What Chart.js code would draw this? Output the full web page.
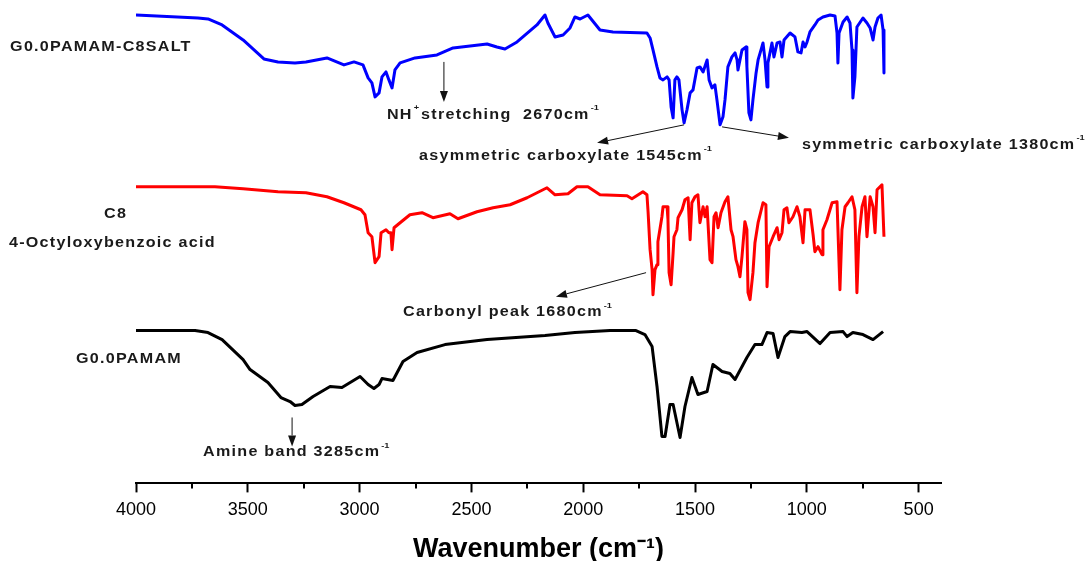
<!DOCTYPE html>
<html>
<head>
<meta charset="utf-8">
<script src="https://cdn.jsdelivr.net/npm/chart.js@4"></script>
<style>
  html, body { margin: 0; padding: 0; background: #fff; overflow: hidden; }
  canvas { display: block; }
</style>
</head>
<body>
<canvas id="ftirChart" width="1088" height="570"></canvas>
<script>
// wavenumber (cm-1) / offset transmittance
const saltWn = [4000, 3723, 3678, 3615, 3521, 3428, 3365, 3289, 3240, 3146, 3070, 3025, 2985, 2962, 2945, 2931, 2913, 2900, 2882, 2869, 2855, 2842, 2819, 2752, 2654, 2582, 2430, 2386, 2350, 2296, 2207, 2171, 2158, 2126, 2090, 2059, 2037, 2014, 1979, 1925, 1867, 1715, 1701, 1688, 1670, 1657, 1643, 1625, 1616, 1607, 1598, 1590, 1581, 1572, 1558, 1549, 1536, 1522, 1509, 1491, 1478, 1464, 1446, 1437, 1424, 1411, 1402, 1388, 1375, 1366, 1353, 1335, 1321, 1312, 1308, 1290, 1272, 1268, 1259, 1250, 1241, 1227, 1218, 1201, 1196, 1187, 1178, 1174, 1156, 1147, 1133, 1120, 1111, 1102, 1075, 1053, 1040, 1026, 1017, 1008, 999, 986, 964, 950, 928, 896, 874, 865, 861, 856, 838, 820, 807, 798, 794, 785, 776, 749, 731, 717, 704, 695, 682, 668, 659, 655];
const saltT = [485, 482, 481, 475, 460, 441, 438, 437, 438, 442, 435, 438, 435, 422, 417, 403, 407, 423, 428, 420, 412, 430, 437, 442, 445, 452, 456, 453, 451, 458, 475, 485, 477, 463, 465, 472, 483, 481, 485, 470, 468, 467, 462, 450, 433, 422, 420, 423, 420, 393, 382, 420, 423, 420, 390, 377, 390, 407, 410, 432, 433, 428, 440, 420, 412, 415, 400, 375, 383, 400, 433, 443, 447, 440, 430, 450, 453, 433, 387, 380, 400, 427, 440, 453, 457, 440, 413, 437, 457, 443, 457, 458, 443, 460, 467, 463, 448, 447, 458, 453, 458, 468, 475, 480, 483, 485, 484, 467, 437, 467, 478, 483, 477, 450, 402, 423, 473, 482, 477, 472, 460, 473, 482, 485, 470, 427];

const acidWn = [4000, 3647, 3521, 3365, 3240, 3146, 3070, 2994, 2976, 2962, 2945, 2931, 2913, 2904, 2882, 2869, 2860, 2855, 2846, 2819, 2775, 2721, 2672, 2596, 2560, 2475, 2403, 2327, 2251, 2162, 2126, 2068, 2028, 1979, 1925, 1804, 1782, 1733, 1715, 1710, 1701, 1692, 1688, 1679, 1670, 1666, 1648, 1643, 1625, 1621, 1616, 1607, 1598, 1594, 1581, 1576, 1558, 1545, 1531, 1522, 1514, 1500, 1487, 1478, 1464, 1455, 1446, 1433, 1424, 1415, 1406, 1397, 1384, 1366, 1353, 1339, 1330, 1317, 1308, 1299, 1290, 1277, 1268, 1263, 1254, 1241, 1232, 1218, 1196, 1183, 1178, 1169, 1151, 1133, 1124, 1111, 1102, 1089, 1080, 1062, 1044, 1031, 1017, 1008, 986, 972, 964, 950, 932, 928, 910, 887, 865, 852, 843, 829, 816, 798, 785, 776, 767, 753, 740, 731, 717, 704, 695, 686, 664, 655];
const acidT = [313, 313, 311, 308, 307, 303, 297, 290, 285, 267, 263, 237, 243, 267, 270, 267, 267, 250, 272, 277, 285, 287, 282, 286, 281, 288, 292, 295, 302, 312, 305, 306, 313, 313, 305, 304, 301, 308, 305, 288, 250, 230, 205, 230, 235, 258, 283, 293, 293, 280, 227, 215, 247, 263, 270, 282, 290, 300, 302, 260, 297, 303, 305, 277, 293, 283, 293, 240, 237, 283, 287, 272, 287, 298, 303, 270, 263, 240, 233, 223, 243, 278, 270, 207, 200, 227, 257, 277, 297, 295, 213, 253, 263, 272, 260, 267, 290, 292, 277, 283, 293, 283, 257, 290, 290, 265, 248, 253, 245, 270, 280, 297, 298, 210, 270, 293, 297, 303, 290, 207, 263, 293, 303, 263, 303, 293, 267, 310, 315, 263];

const pamamWn = [4000, 3736, 3678, 3615, 3521, 3490, 3410, 3352, 3311, 3289, 3258, 3208, 3132, 3079, 2998, 2962, 2936, 2913, 2900, 2851, 2806, 2743, 2618, 2430, 2171, 2037, 1880, 1764, 1724, 1692, 1670, 1648, 1634, 1612, 1598, 1567, 1545, 1514, 1487, 1446, 1420, 1379, 1344, 1321, 1268, 1232, 1201, 1178, 1151, 1129, 1098, 1075, 1022, 999, 941, 896, 838, 820, 794, 749, 704, 659];
const pamamT = [169, 169, 167, 160, 140, 130, 117, 102, 98, 94, 95, 103, 113, 112, 123, 115, 111, 115, 121, 119, 138, 147, 155, 160, 164, 167, 169, 169, 165, 153, 113, 63, 63, 95, 95, 62, 93, 122, 105, 108, 135, 128, 126, 120, 142, 155, 155, 167, 166, 142, 163, 168, 167, 168, 156, 167, 168, 163, 167, 165, 160, 168];

const majorTicks = [4000, 3500, 3000, 2500, 2000, 1500, 1000, 500];
const minorTicks = [3750, 3250, 2750, 2250, 1750, 1250, 750];

// text labels and arrows, anchored in data units
const labels = [
    { parts: [['G0.0PAMAM-C8SALT', 0]], wn: 4563, t: 453 },
    { parts: [['NH', 0], ['+', 1], ['stretching  2670cm', 0], ['-1', 1]], wn: 2878, t: 385 },
    { parts: [['asymmetric carboxylate 1545cm', 0], ['-1', 1]], wn: 2734, t: 344 },
    { parts: [['symmetric carboxylate 1380cm', 0], ['-1', 1]], wn: 1022, t: 355 },
    { parts: [['C8', 0]], wn: 4143, t: 286 },
    { parts: [['4-Octyloxybenzoic acid', 0]], wn: 4568, t: 257 },
    { parts: [['Carbonyl peak 1680cm', 0], ['-1', 1]], wn: 2806, t: 187 },
    { parts: [['G0.0PAMAM', 0]], wn: 4268, t: 140 },
    { parts: [['Amine band 3285cm', 0], ['-1', 1]], wn: 3700, t: 47 }
];
const arrows = [
    { from: [2623, 438], to: [2623, 398] },
    { from: [1549, 375], to: [1938, 357] },
    { from: [1379, 373], to: [1080, 362] },
    { from: [1719, 227], to: [2122, 203] },
    { from: [3302, 82], to: [3302, 53] }
];

const FONT = '"Liberation Sans", Arial, sans-serif';
const STRETCH = 1.15;

function toPoints(wn, t) {
    return wn.map((w, i) => ({ x: w, y: t[i] }));
}

const notesPlugin = {
    id: 'notes',
    afterDatasetsDraw(chart) {
        const { ctx, chartArea } = chart;
        const x = chart.scales.x;
        const y = chart.scales.y;
        ctx.save();

        // 짧은 보조 눈금
        ctx.strokeStyle = '#000';
        ctx.lineWidth = 2;
        minorTicks.forEach(v => {
            const px = Math.round(x.getPixelForValue(v));
            ctx.beginPath();
            ctx.moveTo(px, chartArea.bottom);
            ctx.lineTo(px, chartArea.bottom + 5);
            ctx.stroke();
        });

        // 화살표
        ctx.strokeStyle = '#111';
        ctx.fillStyle = '#111';
        ctx.lineWidth = 1;
        arrows.forEach(a => {
            const x1 = x.getPixelForValue(a.from[0]), y1 = y.getPixelForValue(a.from[1]);
            const x2 = x.getPixelForValue(a.to[0]), y2 = y.getPixelForValue(a.to[1]);
            const ang = Math.atan2(y2 - y1, x2 - x1);
            const len = 11, half = 4;
            const bx = x2 - len * Math.cos(ang), by = y2 - len * Math.sin(ang);
            ctx.beginPath();
            ctx.moveTo(x1, y1);
            ctx.lineTo(bx, by);
            ctx.stroke();
            ctx.beginPath();
            ctx.moveTo(x2, y2);
            ctx.lineTo(bx + half * Math.sin(ang), by - half * Math.cos(ang));
            ctx.lineTo(bx - half * Math.sin(ang), by + half * Math.cos(ang));
            ctx.closePath();
            ctx.fill();
        });

        // 라벨 (약간 가로로 늘린 굵은 글씨)
        ctx.fillStyle = '#1a1a1a';
        ctx.textBaseline = 'middle';
        ctx.textAlign = 'left';
        labels.forEach(l => {
            let px = x.getPixelForValue(l.wn);
            const py = y.getPixelForValue(l.t);
            l.parts.forEach(([txt, sup]) => {
                ctx.font = sup ? 'bold 8px ' + FONT : 'bold 14px ' + FONT;
                ctx.letterSpacing = sup ? '0px' : '1.1px';
                const w = ctx.measureText(txt).width * STRETCH;
                ctx.save();
                ctx.translate(px + (sup ? 1 : 0), sup ? py - 7 : py);
                ctx.scale(STRETCH, 1);
                ctx.fillText(txt, 0, 0);
                ctx.restore();
                px += w + (sup ? 3 : 0);
            });
        });
        ctx.restore();
    }
};

const ctx = document.getElementById('ftirChart').getContext('2d');
const ftirChart = new Chart(ctx, {
    type: 'line',
    data: {
        datasets: [
            {
                label: 'G0.0PAMAM-C8SALT',
                data: toPoints(saltWn, saltT),
                borderColor: '#0000ff'
            },
            {
                label: '4-Octyloxybenzoic acid',
                data: toPoints(acidWn, acidT),
                borderColor: '#ff0000'
            },
            {
                label: 'G0.0PAMAM',
                data: toPoints(pamamWn, pamamT),
                borderColor: '#000000'
            }
        ]
    },
    options: {
        responsive: false,
        devicePixelRatio: 1,
        animation: false,
        parsing: false,
        elements: {
            point: { radius: 0 },
            line: { tension: 0, fill: false, borderWidth: 3, borderJoinStyle: 'round' }
        },
        layout: {
            padding: { left: 136, right: 147, top: 4, bottom: 7 }
        },
        plugins: {
            legend: { display: false },
            tooltip: { enabled: false }
        },
        scales: {
            x: {
                type: 'linear',
                reverse: true,
                min: 400,
                max: 4000,
                border: { display: true, color: '#000', width: 2 },
                grid: {
                    drawOnChartArea: false,
                    drawTicks: true,
                    tickLength: 9,
                    tickWidth: 2,
                    tickColor: '#000'
                },
                afterBuildTicks: axis => {
                    axis.ticks = majorTicks.map(v => ({ value: v }));
                },
                ticks: {
                    color: '#000',
                    font: { family: FONT, size: 18 },
                    padding: 7,
                    maxRotation: 0,
                    autoSkip: false,
                    callback: v => String(v)
                },
                title: {
                    display: true,
                    text: 'Wavenumber (cm⁻¹)',
                    color: '#000',
                    font: { family: FONT, size: 27, weight: 'bold', lineHeight: 1 },
                    padding: { top: 8, bottom: 0 }
                }
            },
            y: {
                display: false,
                min: 16,
                max: 496
            }
        }
    },
    plugins: [notesPlugin]
});
</script>
</body>
</html>
